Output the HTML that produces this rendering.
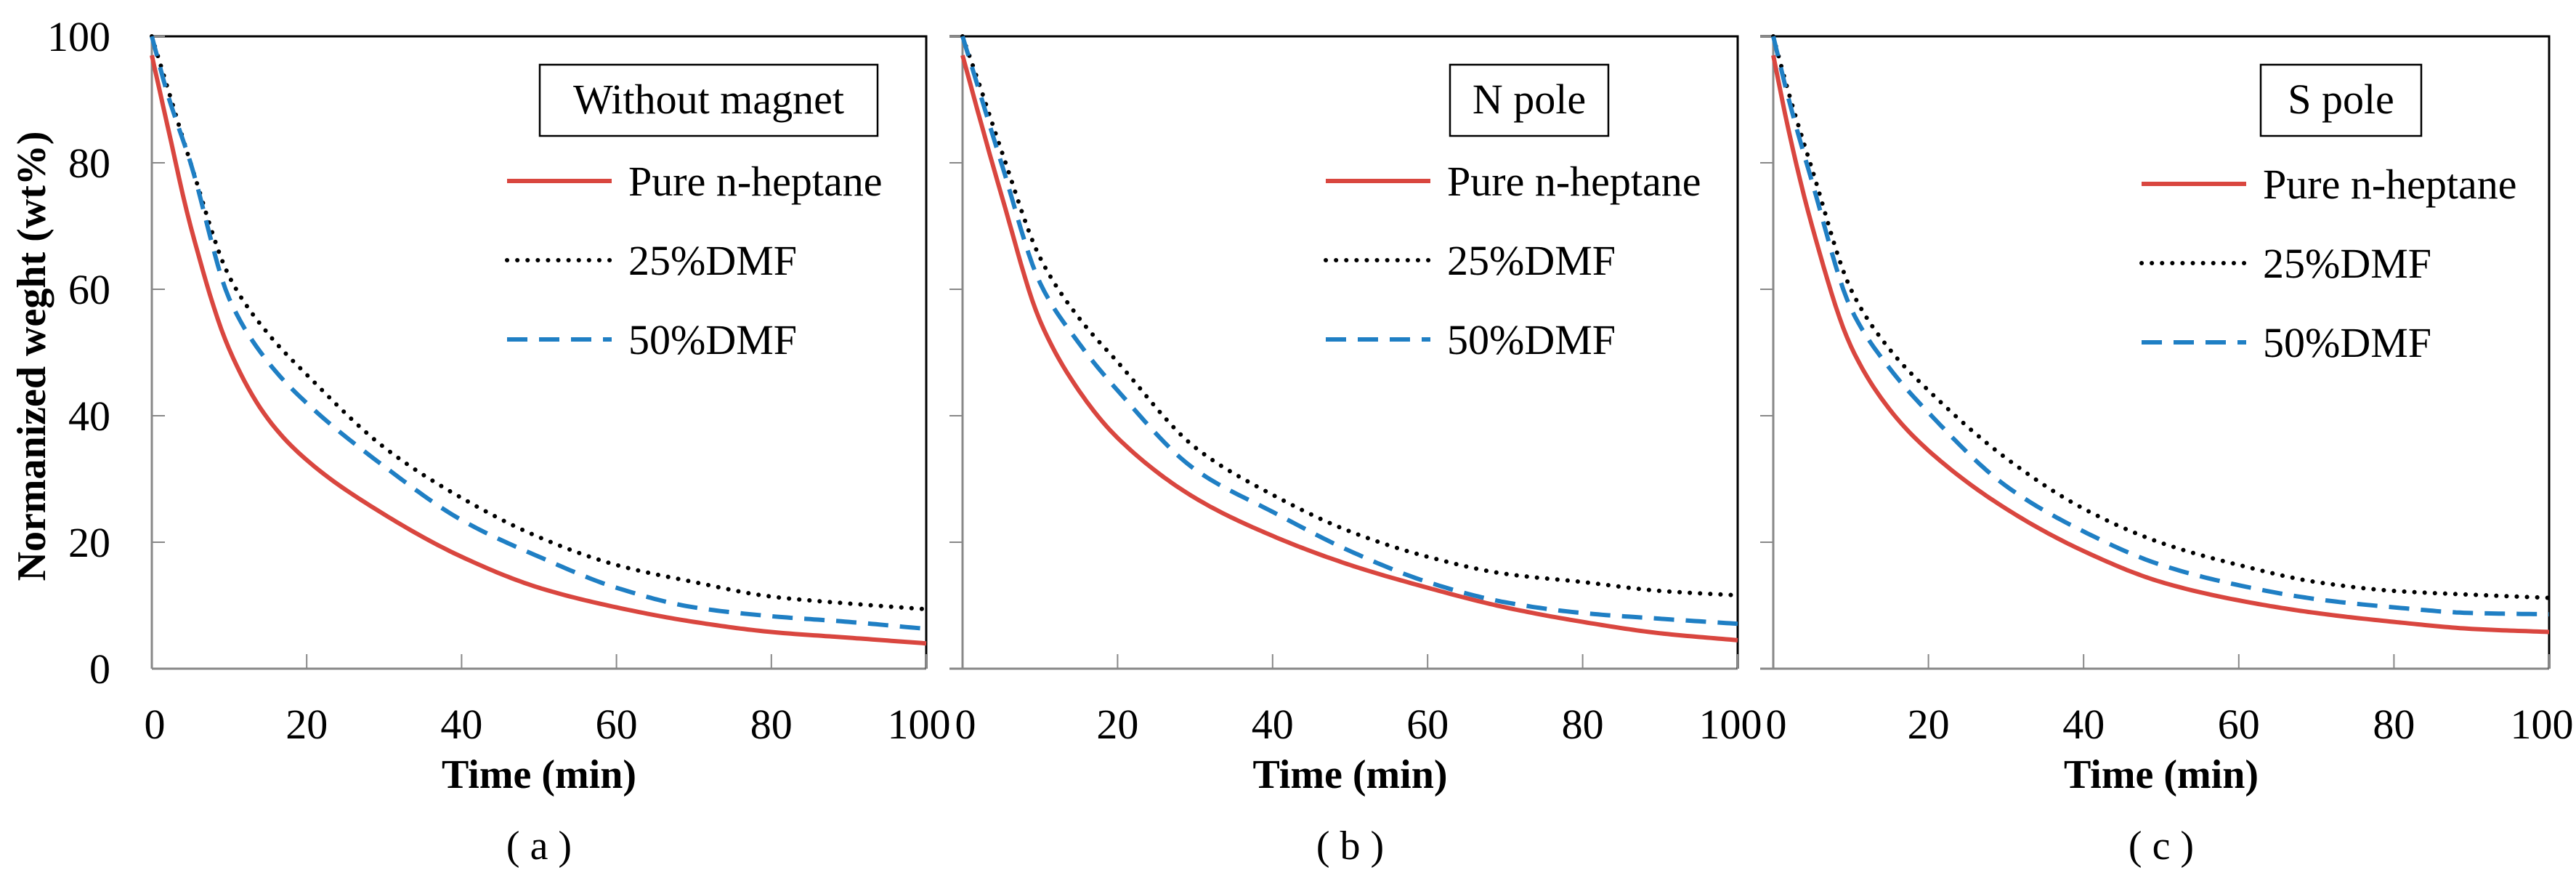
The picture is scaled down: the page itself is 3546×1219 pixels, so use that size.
<!DOCTYPE html>
<html><head><meta charset="utf-8">
<style>
html,body{margin:0;padding:0;background:#fff;}
svg{display:block;}
text{font-family:"Liberation Serif",serif;fill:#000;}
</style></head>
<body>
<svg id="chart" width="3546" height="1219" viewBox="0 0 3546 1219" xmlns="http://www.w3.org/2000/svg">
<text transform="translate(62,490) rotate(-90)" text-anchor="middle" font-size="56" font-weight="bold">Normanized weght (wt%)</text>
</svg>
<script>
const times = [0, 2, 5, 10, 15, 20, 30, 40, 50, 60, 70, 80, 90, 100];
const xTicks = [0, 20, 40, 60, 80, 100];
const yTicks = [0, 20, 40, 60, 80, 100];
const panelTitles = ["Without magnet", "N pole", "S pole"];
const panelLabels = ["( a )", "( b )", "( c )"];
const seriesNames = ["Pure n-heptane", "25%DMF", "50%DMF"];
// panel a
const aPure = [97, 86, 70, 50.5, 39.5, 33, 24.4, 17.7, 12.8, 9.7, 7.4, 5.8, 4.9, 4.0];
const aDmf25 = [100, 92, 80, 62, 53, 46.5, 35, 27, 20.8, 16.4, 13.7, 11.4, 10.3, 9.4];
const aDmf50 = [100, 91, 80, 58.5, 48.5, 42, 32, 23.5, 17.7, 12.8, 9.7, 8.3, 7.4, 6.3];
// panel b
const bPure = [97, 88, 75, 55, 44, 36.5, 27, 21, 16.4, 12.8, 9.7, 7.4, 5.6, 4.5];
const bDmf25 = [100, 93, 82, 65, 55.5, 48.5, 35, 27.5, 21.7, 17.7, 15, 13.7, 12.3, 11.6];
const bDmf50 = [100, 92, 80, 61, 51.5, 44, 31.5, 24.8, 18.6, 13.7, 10.5, 8.8, 7.9, 7.1];
// panel c
const cPure = [97, 85, 70, 51, 41, 34.5, 25.3, 18.6, 13.7, 10.8, 8.8, 7.4, 6.3, 5.8];
const cDmf25 = [100, 91, 79, 60, 50.5, 44, 33.3, 25.3, 19.9, 16.4, 13.7, 12.3, 11.7, 11.2];
const cDmf50 = [100, 90, 77, 57, 47.5, 40.5, 28.9, 21.7, 16.4, 13.2, 11, 9.7, 8.8, 8.6];

const panelsData = [[aPure, aDmf25, aDmf50], [bPure, bDmf25, bDmf50], [cPure, cDmf25, cDmf50]];
const NS = "http://www.w3.org/2000/svg";
const svg = document.getElementById('chart');
const frames = [{l:209,r:1275,legX:698,boxX:743,boxW:465,legY:249},{l:1325,r:2392,legX:1825,boxX:1996,boxW:218,legY:249},{l:2441,r:3509,legX:2948,boxX:3112,boxW:221,legY:253}];
const top0 = 50, bot0 = 920;
const styles = [{c:"#d9463f",d:null,w:6,cap:"butt"},{c:"#000",d:"0.1 14",w:6,cap:"round"},{c:"#1f7fc4",d:"28 16",w:6,cap:"butt"}];
const panelIds = ['a','b','c'];

function mk(tag, attrs, parent){const e=document.createElementNS(NS,tag);for(const k in attrs)e.setAttribute(k,attrs[k]);(parent||svg).appendChild(e);return e;}
// monotone cubic (Fritsch-Carlson) in data space
function monotone(xsA, ysA){
  const n=xsA.length, d=[], m=new Array(n);
  for(let i=0;i<n-1;i++) d.push((ysA[i+1]-ysA[i])/(xsA[i+1]-xsA[i]));
  m[0]=d[0]; m[n-1]=d[n-2];
  for(let i=1;i<n-1;i++){
    if(d[i-1]*d[i]<=0) m[i]=0;
    else { const h0=xsA[i]-xsA[i-1], h1=xsA[i+1]-xsA[i];
      const w1=2*h1+h0, w2=h1+2*h0; m[i]=(w1+w2)/(w1/d[i-1]+w2/d[i]); }
  }
  return t=>{
    let i=0; while(i<n-2 && t>xsA[i+1]) i++;
    const h=xsA[i+1]-xsA[i], s=(t-xsA[i])/h;
    const h00=2*s*s*s-3*s*s+1,h10=s*s*s-2*s*s+s,h01=-2*s*s*s+3*s*s,h11=s*s*s-s*s;
    return h00*ysA[i]+h10*h*m[i]+h01*ysA[i+1]+h11*h*m[i+1];
  };
}

frames.forEach((f,pi)=>{
  const g = mk('g',{});
  
  
  const xs = v => f.l + (v/100)*(f.r-f.l);
  const ys = v => bot0 - (v/100)*(bot0-top0);
  const ext = pi===0 ? 0 : 18;
  const ax1 = mk('line',{x1:f.l-ext,y1:bot0,x2:f.r,y2:bot0,stroke:"#888","stroke-width":3},g);
  
  
  const ax2 = mk('line',{x1:f.l,y1:top0,x2:f.l,y2:bot0,stroke:"#888","stroke-width":3},g);
  
  
  mk('polyline',{points:`${f.l-ext},${top0} ${f.r},${top0} ${f.r},${bot0}`,fill:"none",stroke:"#000","stroke-width":3},g);
  xTicks.forEach(t=>{
    const tk = mk('line',{x1:xs(t),y1:bot0,x2:xs(t),y2:bot0-20,stroke:"#888","stroke-width":2},g);
    
    
    const tx = mk('text',{x:xs(t)+(t===100?-10:(t===0?4:0)),y:1016,"text-anchor":"middle","font-size":58},g);
    tx.textContent = t;
    
    
  });
  yTicks.forEach(t=>{
    const tk = mk('line',{x1:pi===0?f.l:f.l-18,y1:ys(t),x2:pi===0?f.l+18:f.l,y2:ys(t),stroke:"#888","stroke-width":2},g);
    
    
    if(pi===0){
      const tx = mk('text',{x:152,y:ys(t)+20,"text-anchor":"end","font-size":58},g);
      tx.textContent = t;
      
      
    }
  });
  const xt = mk('text',{x:(f.l+f.r)/2,y:1084,"text-anchor":"middle","font-size":56,"font-weight":"bold"},g);
  xt.textContent = "Time (min)";
  
  
  const pl = mk('text',{x:(f.l+f.r)/2,y:1182,"text-anchor":"middle","font-size":56},g);
  pl.textContent = panelLabels[pi];
  
  
  const bx = mk('rect',{x:f.boxX,y:89,width:f.boxW,height:98,fill:"#fff",stroke:"#000","stroke-width":2.5},g);
  
  
  const bt = mk('text',{x:f.boxX+f.boxW/2,y:156,"text-anchor":"middle","font-size":58},g);
  bt.textContent = panelTitles[pi];
  
  
  panelsData[pi].forEach((vals,si)=>{
    const st = styles[si];
    const fn = monotone(times, vals);
    const pts = [];
    for(let t=0;t<=100.0001;t+=0.5) pts.push(xs(t).toFixed(1)+','+ys(fn(t)).toFixed(1));
    const p = mk('polyline',{points:pts.join(' '),fill:"none",stroke:st.c,"stroke-width":st.w,"stroke-linecap":st.cap,"stroke-linejoin":"round"},g);
    if(st.d) p.setAttribute('stroke-dasharray',st.d);
    
    
    const ly = f.legY + si*109;
    const ll = mk('line',{x1:f.legX,y1:ly,x2:f.legX+144,y2:ly,stroke:st.c,"stroke-width":st.w,"stroke-linecap":st.cap},g);
    if(st.d) ll.setAttribute('stroke-dasharray',st.d);
    
    
    const lt = mk('text',{x:f.legX+167,y:ly+20,"font-size":58},g);
    lt.textContent = seriesNames[si];
    
    
  });
});
</script>
</body></html>
